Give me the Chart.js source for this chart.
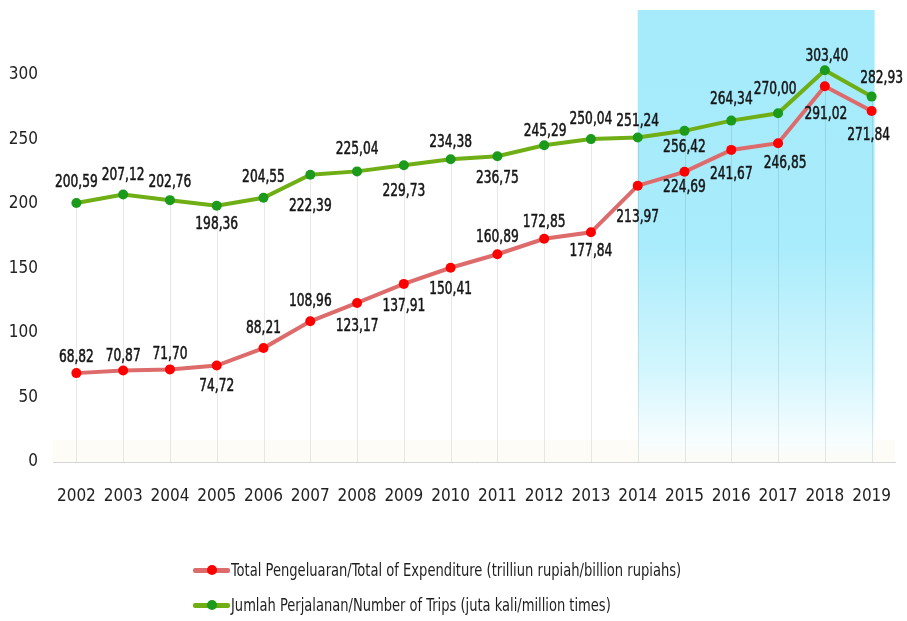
<!DOCTYPE html>
<html>
<head>
<meta charset="utf-8">
<script src="https://cdn.jsdelivr.net/npm/chart.js@4.4.1/dist/chart.umd.min.js"></script>
<style>
  html, body { margin: 0; padding: 0; background: #fff; }
  #wrap { position: relative; width: 907px; height: 621px; }
  #legend { position: absolute; left: 193px; top: 552px; font-family: 'DejaVu Sans Condensed', 'DejaVu Sans', sans-serif; font-size: 18px; color: #1e1e1e; }
  .item { height: 35px; display: flex; align-items: center; white-space: nowrap; }
  .mark { position: relative; width: 37px; height: 12px; flex: none; margin-right: 1px; }
  .mark .ln { position: absolute; left: 0; right: 0; top: 4px; height: 5px; border-radius: 2px; }
  .mark .dt { position: absolute; left: 14px; top: 1px; width: 10px; height: 10px; border-radius: 50%; }
  .txt { display: inline-block; transform-origin: left center; }
</style>
</head>
<body>
<div id="wrap">
  <canvas id="line-chart" width="907" height="621"></canvas>
  <div id="legend">
    <div class="item"><span class="mark"><span class="ln" style="background:#de6b6b"></span><span class="dt" style="background:#ff0000"></span></span><span class="txt" id="lg1">Total Pengeluaran/Total of Expenditure (trilliun rupiah/billion rupiahs)</span></div>
    <div class="item"><span class="mark"><span class="ln" style="background:#6fae14"></span><span class="dt" style="background:#1b9a1b"></span></span><span class="txt" id="lg2">Jumlah Perjalanan/Number of Trips (juta kali/million times)</span></div>
  </div>
</div>
<script>
var years = ['2002', '2003', '2004', '2005', '2006', '2007', '2008', '2009', '2010',
             '2011', '2012', '2013', '2014', '2015', '2016', '2017', '2018', '2019'];
// Total Pengeluaran (trilliun rupiah)
var spending = [68.82, 70.87, 71.70, 74.72, 88.21, 108.96, 123.17, 137.91, 150.41,
                160.89, 172.85, 177.84, 213.97, 224.69, 241.67, 246.85, 291.02, 271.84];
// Jumlah Perjalanan (juta kali)
var trips = [200.59, 207.12, 202.76, 198.36, 204.55, 222.39, 225.04, 229.73, 234.38,
             236.75, 245.29, 250.04, 251.24, 256.42, 264.34, 270.00, 303.40, 282.93];
var yTicks = [0, 50, 100, 150, 200, 250, 300];
var shadeFrom = '2014', shadeTo = '2019';

// label nudges (px) for the value labels
var tripsDy = [-20, -19, -18, 19, -20, 32, -22, 26, -17, 22, -14, -20, -16, 17, -21, -24, -14, -18];
var tripsDx = [0, 0, 0, 0, 0, 0, 0, 0, 0, 0, 1, 0, 0, 0, 0, -3, 2, 10];
var spendDy = [-16, -14, -15, 21, -20, -20, 24, 23, 22, -17, -16, 19, 32, 16, 25, 20, 28, 25];
var spendDx = [0, 0, 0, 0, 0, 0, 0, 0, 0, 0, 0, 0, 0, 0, 0, 7, 1, -3];

var FONT = '"DejaVu Sans Condensed", "DejaVu Sans", sans-serif';

function fmt(v) { return v.toFixed(2).replace('.', ','); }

// squeeze legend text to the narrow look of the original
[['lg1', 450], ['lg2', 380]].forEach(function (p) {
  var el = document.getElementById(p[0]);
  el.style.transform = 'scaleX(' + (p[1] / el.offsetWidth) + ')';
});

var shadePlugin = {
  id: 'shade',
  beforeDraw: function (chart) {
    var c = chart.ctx, a = chart.chartArea, xs = chart.scales.x;
    c.save();
    c.fillStyle = 'rgba(250,248,236,0.4)';
    c.fillRect(a.left, a.bottom - 22, a.right - a.left, 22);
    var x0 = xs.getPixelForValue(years.indexOf(shadeFrom));
    var x1 = xs.getPixelForValue(years.indexOf(shadeTo)) + 3;
    var g = c.createLinearGradient(0, a.top, 0, a.bottom);
    g.addColorStop(0, '#a5ebfb');
    g.addColorStop(0.52, '#a9ecfc');
    g.addColorStop(0.8, '#d3f6fd');
    g.addColorStop(0.95, '#f6fdff');
    g.addColorStop(1, '#fcfcf6');
    c.fillStyle = g;
    c.fillRect(x0, a.top, x1 - x0, a.bottom - a.top);
    c.restore();
  },
  beforeDatasetsDraw: function (chart) {
    // drop lines from the top point down to the axis
    var c = chart.ctx, a = chart.chartArea, xs = chart.scales.x, ys = chart.scales.y;
    c.save();
    c.strokeStyle = 'rgba(0,0,0,0.09)';
    c.lineWidth = 1;
    years.forEach(function (yr, i) {
      var x = Math.round(xs.getPixelForValue(i)) + 0.5;
      var top = ys.getPixelForValue(Math.max(trips[i], spending[i]));
      c.beginPath();
      c.moveTo(x, top);
      c.lineTo(x, a.bottom);
      c.stroke();
    });
    c.restore();
  },
  afterDatasetsDraw: function (chart) {
    var c = chart.ctx;
    c.save();
    c.font = '17px ' + FONT;
    c.fillStyle = '#151515';
    c.strokeStyle = '#151515';
    c.lineWidth = 0.5;
    c.textAlign = 'center';
    c.textBaseline = 'middle';
    var sets = [[spending, spendDx, spendDy], [trips, tripsDx, tripsDy]];
    sets.forEach(function (s, di) {
      var meta = chart.getDatasetMeta(di);
      meta.data.forEach(function (pt, i) {
        c.save();
        c.translate(pt.x + s[1][i], pt.y + s[2][i]);
        c.scale(0.8, 1);
        c.fillText(fmt(s[0][i]), 0, 0);
        c.strokeText(fmt(s[0][i]), 0, 0);
        c.restore();
      });
    });
    c.restore();
  }
};

var ctx = document.getElementById('line-chart').getContext('2d');
var myChart = new Chart(ctx, {
  type: 'line',
  data: {
    labels: years,
    datasets: [{
      label: 'Total Pengeluaran/Total of Expenditure (trilliun rupiah/billion rupiahs)',
      data: spending,
      borderColor: '#de6b6b',
      borderWidth: 4,
      pointBackgroundColor: '#ff0000',
      pointBorderWidth: 0,
      pointRadius: 5,
      tension: 0
    }, {
      label: 'Jumlah Perjalanan/Number of Trips (juta kali/million times)',
      data: trips,
      borderColor: '#6fae14',
      borderWidth: 4,
      pointBackgroundColor: '#1b9a1b',
      pointBorderWidth: 0,
      pointRadius: 5,
      tension: 0
    }]
  },
  options: {
    responsive: false,
    animation: false,
    layout: { padding: { left: 8, right: 12, top: 10, bottom: 109 } },
    plugins: {
      legend: { display: false },
      tooltip: { enabled: false }
    },
    scales: {
      x: {
        offset: true,
        grid: { display: false, offset: false, drawTicks: false },
        border: { display: true, color: '#d4d4d4', width: 1 },
        ticks: { padding: 24, color: '#222', font: { family: FONT, size: 17 } },
        afterFit: function (s) { s.height = 50; s.paddingLeft = 0; s.paddingRight = 0; }
      },
      y: {
        min: 0, max: 350,
        afterBuildTicks: function (s) { s.ticks = yTicks.map(function (v) { return { value: v }; }); },
        grid: { display: false, drawTicks: false },
        border: { display: false },
        ticks: { padding: 15, color: '#222', font: { family: FONT, size: 17 } },
        afterFit: function (s) { s.width = 45; s.paddingTop = 0; s.paddingBottom = 0; }
      }
    }
  },
  plugins: [shadePlugin]
});
</script>
</body>
</html>
